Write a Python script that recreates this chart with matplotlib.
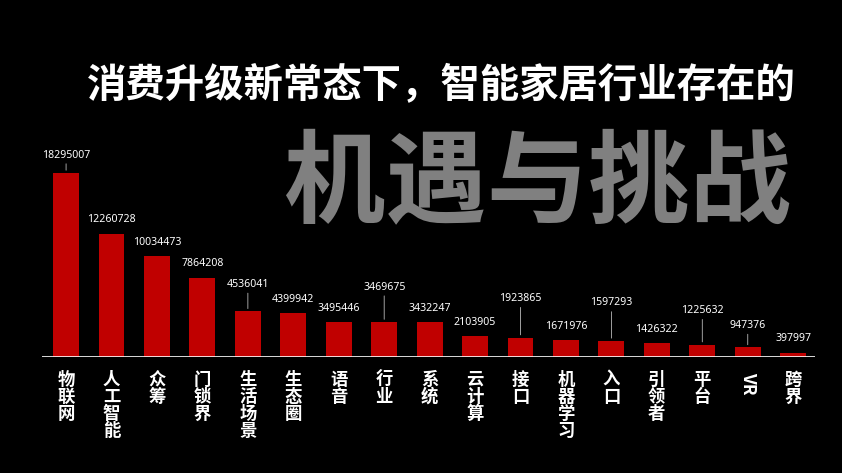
import matplotlib
matplotlib.use("Agg")
import matplotlib.pyplot as plt

categories = ["物联网", "人工智能", "众筹", "门锁界", "生活场景", "生态圈", "语音", "行业", "系统",
              "云计算", "接口", "机器学习", "入口", "引领者", "平台", "VR", "跨界"]
values = [18295007, 12260728, 10034473, 7864208, 4536041, 4399942, 3495446, 3469675, 3432247,
          2103905, 1923865, 1671976, 1597293, 1426322, 1225632, 947376, 397997]
title_line1 = "消费升级新常态下，智能家居行业存在的"
title_line2 = "机遇与挑战"

# label offsets above bar top (pixels) and whether a leader line is drawn (style)
label_offsets = [18, 14, 14, 14, 27, 13, 13, 35, 14, 13, 39, 14, 38, 13, 34, 22, 14]

W, H = 842, 473
fig = plt.figure(figsize=(W / 100, H / 100), dpi=100, facecolor="black")
ax = fig.add_axes([42 / W, 116 / H, 773 / W, 357 / H])
ax.set_facecolor("black")
ax.set_xlim(-0.53, 16.48)
ax.set_ylim(0, 357 * 18295007 / 184)
for s in ax.spines.values():
    s.set_visible(False)
ax.set_xticks([])
ax.set_yticks([])

x = list(range(len(values)))
ax.bar(x, values, width=0.57, color="#C00000", zorder=2)
ax.axhline(0, color="white", lw=1.2, zorder=3)

cjk = ["Noto Sans CJK SC", "DejaVu Sans"]
for i, (v, off) in enumerate(zip(values, label_offsets)):
    ax.annotate(str(v), xy=(i, v), xytext=(0, off), textcoords="offset pixels",
                ha="center", va="center", color="white", fontsize=7.6, family="Noto Sans")
    if off > 16:
        ax.annotate("", xy=(i, v), xytext=(0, off - 6), textcoords="offset pixels",
                    arrowprops=dict(arrowstyle="-", color="#bbbbbb", lw=0.6))

for i, c in enumerate(categories):
    if c == "VR":
        ax.annotate(c, xy=(i, 0), xytext=(0, -15), textcoords="offset pixels",
                    ha="center", va="top", color="white", fontsize=12.5, fontweight="bold",
                    family=cjk, rotation=-90)
    else:
        ax.annotate("\n".join(c), xy=(i, 0), xytext=(0, -14), textcoords="offset pixels",
                    ha="center", va="top", color="white", fontsize=12.5, fontweight="bold",
                    family=cjk, linespacing=0.92)

fig.text(441 / W, 1 - 86 / H, title_line1, ha="center", va="center", color="white",
         fontsize=28.4, fontweight="bold", family=cjk)
fig.text(537 / W, 1 - 186 / H, title_line2, ha="center", va="center", color="#808080",
         fontsize=73, fontweight="heavy", family=cjk)

fig.savefig("out.png", dpi=100, facecolor="black")
